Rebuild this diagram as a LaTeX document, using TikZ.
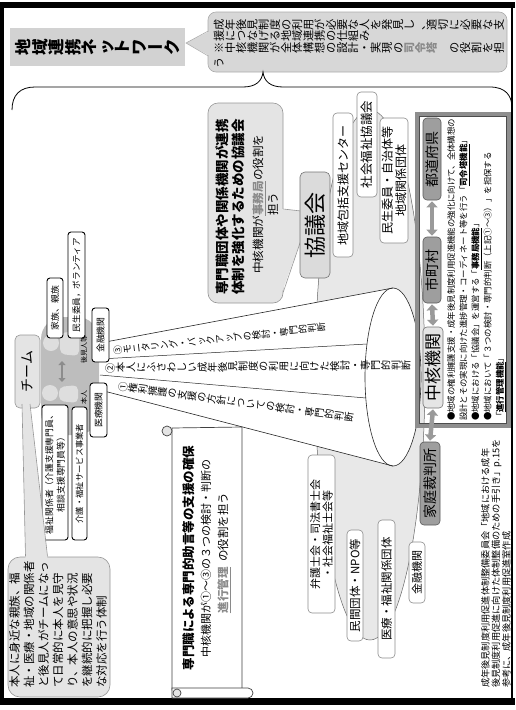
\documentclass[tikz,border=0pt]{standalone}
\usepackage{fontspec}
\setmainfont{Noto Sans CJK JP}
\usepackage{graphicx}
\usetikzlibrary{arrows.meta}
\definecolor{titleg}{HTML}{D2D2D2}
\definecolor{balg}{HTML}{D7D7D7}
\definecolor{balb}{HTML}{ABABAB}
\definecolor{lg}{HTML}{E4E4E4}
\definecolor{lgb}{HTML}{959595}
\definecolor{blobg}{HTML}{E8E8E8}
\definecolor{dgray}{HTML}{9E9E9E}
\definecolor{bgray}{HTML}{8E8E8E}
\definecolor{hlc}{HTML}{8A8A8A}
\definecolor{teamg}{HTML}{BDBDBD}
\definecolor{persong}{HTML}{DEDEDE}
\definecolor{arrowc}{HTML}{9A9A9A}
\newcommand\fz[1]{\fontsize{#1}{#1}\selectfont}
\newcommand\fzb[2]{\fontsize{#1}{#2}\selectfont}
\newcommand\hlt[1]{{\color{hlc}\bfseries\underline{#1}}}
\newcommand\ult[1]{{\bfseries\underline{#1}}}
\makeatletter
\newcommand\tate[1]{\tate@loop#1\@nil}
\def\tate@loop#1{\ifx\@nil#1\else\tate@char{#1}\expandafter\tate@loop\fi}
\def\tate@char#1{\if ー#1\makebox[1em][c]{ー}\else\rotatebox[origin=c]{90}{\makebox[1em][c]{\rule[-.12em]{0pt}{1em}#1}}\fi}
\makeatother
\begin{document}
\begin{tikzpicture}[x=1pt,y=-1pt,
  rt/.style={rotate=90, inner sep=0pt},
  wbox/.style={rotate=90, draw=black, line width=0.9pt, fill=white, rounded corners=3pt, inner sep=0pt, align=center, font=\fzb{8.8}{11.5}},
  nbox/.style={rotate=90, draw=black!45, line width=0.6pt, fill=white, rounded corners=4pt, inner sep=0pt, align=center},
  gbox/.style={rotate=90, draw=black!65, line width=0.6pt, fill=dgray, rounded corners=4pt, inner sep=0pt},
  darr/.style={line width=4.5pt, draw=arrowc, {Triangle[width=11pt,length=6pt]}-{Triangle[width=11pt,length=6pt]}},
  sarr/.style={line width=2.6pt, draw=black!45, {Triangle[width=7pt,length=4pt]}-{Triangle[width=7pt,length=4pt]}},
  cone/.style={line width=0.6pt, draw=black!85},
  trow/.style={anchor=west, inner sep=0pt, font=\fz{11.2}}]
\useasboundingbox (0,0) rectangle (515,710);
% frame
\fill[black] (0,2) rectangle (515,8);
\fill[black] (0,2) rectangle (4,705);
\fill[black] (0,698) rectangle (515,705);
\draw[line width=1.2pt] (512,2) -- (512,705);
% title
\node[fill=titleg, minimum width=175, minimum height=38, inner sep=0pt] (title) at (97.5,47) {\fz{16.5}\bfseries\tate{地域連携ネットワーク}};
% top balloon
\node[draw=balb, fill=balg, line width=0.6pt, rounded corners=8pt, minimum width=299, minimum height=60, inner sep=0pt] (balloon) at (357.5,42) {};
\fill[balg] (210,31) -- (186,43) -- (210,56) -- cycle;
\draw[balb, line width=0.6pt] (208.3,31) -- (186,43) -- (208.3,56);
\node[trow] (b1) at (213,25) {\tate{成年後見制度の利用が必要な人を発見し、適切に必要な支}};
\node[trow] (b2) at (213,35.5) {\tate{援につなげる地域連携の仕組み}};
\node[trow] (b3) at (213,48) {\tate{※中核機関が全体構想の設計・実現の}{\color{hlc}\bfseries\tate{司令塔}}\hspace{1em}\tate{の役割を担}};
\node[trow] (b4) at (213,62.5) {\tate{う}};
% brace
\draw[line width=0.8pt] (12,110) .. controls (12,95) and (20,87) .. (35,87) -- (243,87) .. controls (256,87) and (262,81) .. (263,72) .. controls (264,81) and (270,87) .. (283,87) -- (490,87) .. controls (505,87) and (512,95) .. (512,108);
% network blob
\draw[draw=black!60, fill=blobg, line width=0.5pt] (370,375) ellipse [x radius=55pt, y radius=265pt];
% cone
\fill[white] (100,343) -- (393,288) -- (393,466) -- (100,390) -- cycle;
\fill[white] (393,377) ellipse [x radius=28pt, y radius=89pt];
\draw[cone] (100,343) -- (393,288);
\draw[cone] (100,390) -- (393,466);
\draw[cone] (393,377) ellipse [x radius=28pt, y radius=89pt];
\draw[cone, line width=0.5pt] (100,359) -- (367,344);
\draw[cone, line width=0.5pt] (100,375) -- (366,398);
\node[rotate=6.4, anchor=west, inner sep=0pt, font=\fz{9.3}] (t3) at (113,351) {\tate{③モニタリング・バックアップの検討・専門的判断}};
\node[rotate=0.5, anchor=west, inner sep=0pt, font=\fz{10.2}] (t2) at (105,368) {\tate{②本人にふさわしい成年後見制度の利用に向けた検討・専門的判断}};
\node[rotate=-7.7, anchor=west, inner sep=0pt, font=\fz{9.9}] (t1) at (118,386) {\tate{①権利擁護の支援の方針についての検討・専門的判断}};
% team circle
\fill[teamg, rounded corners=22pt] (41,317) rectangle (99,435);
\fill[persong] (51,343) circle [radius=8pt];
\fill[persong, rounded corners=5pt] (79,331) -- (60,333) -- (60,354) -- (79,356) -- cycle;
\fill[persong] (50,393) circle [radius=8pt];
\fill[persong, rounded corners=5pt] (78,385) -- (59,387) -- (59,401) -- (78,403) -- cycle;
\coordinate (pa) at (62,361);
\coordinate (pb) at (62,382);
\draw[sarr] (pa) -- (pb);
\node[rt, font=\fz{7}] (koukennin) at (84,349) {後見人等};
\node[rt, font=\fz{7}] (honnin) at (84,397) {本人};
% team label
\node[rotate=90, draw=lgb, fill=lg, line width=0.6pt, rounded corners=5pt, minimum width=73, minimum height=25, inner sep=0pt, font=\fz{14}] (team) at (27.5,371.5) {チーム};
% team boxes
\node[wbox, minimum width=60, minimum height=16] (kazoku) at (55,308) {家族、親族};
\node[wbox, minimum width=106, minimum height=17, font=\fz{8.6}] (minsei) at (76.5,285) {民生委員，ボランティア};
\node[wbox, minimum width=54, minimum height=17] (kinyu1) at (100.5,335) {金融機関};
\node[wbox, minimum width=54, minimum height=17] (iryo1) at (98.5,410) {医療機関};
\node[wbox, minimum width=133, minimum height=15, font=\fz{8.3}] (kaigo) at (79.5,473.5) {介護・福祉サービス事業者};
\node[wbox, minimum width=135, minimum height=26] (fukushi) at (55,472.5) {福祉関係者（介護支援専門員、\\相談支援専門員等）};
% team callout
\node[draw=lgb, fill=lg, line width=0.6pt, rounded corners=12pt, minimum width=102, minimum height=140, inner sep=0pt] (teamcall) at (59,627) {};
\fill[lg] (22.3,404) -- (29.7,404) -- (47.5,558) -- (25.5,558) -- cycle;
\draw[lgb, line width=0.6pt] (22,404) -- (25.5,556.3);
\draw[lgb, line width=0.6pt] (30,404) -- (47.5,556.3);
\node[rt, anchor=north west, align=left, font=\fzb{11.5}{14.5}] (teamtext) at (9,688) {本人に身近な親族、福\\祉・医療・地域の関係者\\と後見人がチームになっ\\て日常的に本人を見守\\り、本人の意思や状況\\を継続的に把握し必要\\な対応を行う体制};
% kyogikai callout
\node[draw=lgb, fill=lg, line width=0.6pt, rounded corners=10pt, minimum width=75, minimum height=200, inner sep=0pt] (kcall) at (245.5,203) {};
\fill[lg] (282,209) -- (301,211) -- (301,240) -- (282,292) -- cycle;
\draw[lgb, line width=0.6pt] (283.3,209) -- (301,211);
\draw[lgb, line width=0.6pt] (301,240) -- (283.3,292);
\node[rt, font=\fz{13.5}\bfseries] (k1) at (222.5,207) {専門職団体や関係機関が連携};
\node[rt, font=\fz{13.5}\bfseries] (k2) at (238,207) {体制を強化するための協議会};
\node[rt, font=\fz{11.6}] (k3) at (259,204) {中核機関が\hlt{事務局}の役割を};
\node[rt, font=\fz{11.6}] (k4) at (273,204) {担う};
% network boxes
\node[rotate=90, draw=black!55, fill=black!14, line width=0.6pt, rounded corners=5pt, minimum width=106, minimum height=30, inner sep=0pt, font=\fz{22}] (kyogikai) at (315,225) {協議会};
\node[nbox, minimum width=144, minimum height=20, font=\fz{12}] (houkatsu) at (343,185) {地域包括支援センター};
\node[nbox, minimum width=105, minimum height=20, font=\fz{12.5}] (shakyo) at (367,144.5) {社会福祉協議会};
\node[nbox, minimum width=125, minimum height=28, font=\fzb{12}{13.5}] (minsei2) at (394,180.5) {民生委員・自治体等\\地域関係団体};
\node[nbox, minimum width=158, minimum height=27, font=\fzb{11}{12.5}] (bengo) at (321.5,534) {弁護士会・司法書士会\\・社会福祉士会等};
\node[nbox, minimum width=111, minimum height=16, font=\fz{11.5}] (minkan) at (355,585.5) {民間団体・NPO等};
\node[nbox, minimum width=138, minimum height=17, font=\fz{11.5}] (iryo2) at (386.5,589) {医療・福祉関係団体};
\node[nbox, minimum width=61, minimum height=16, font=\fz{11}] (kinyu2) at (417,572.5) {金融機関};
% scroll
\draw[black!75, fill=white, line width=0.7pt] (172,428) -- (242,427) -- (242,690) -- (172,690) -- cycle;
\draw[black!75, fill=black!10, line width=0.7pt] (167,431) circle [radius=5pt];
\draw[black!75, fill=white, line width=0.7pt] (172,688) -- (248,688) arc [start angle=90, end angle=-90, radius=5pt] -- (172,698) -- cycle;
\draw[black!75, fill=black!10, line width=0.7pt] (177,693) circle [radius=4pt];
\node[rt, font=\fz{12.5}\bfseries] (s1) at (189,558) {専門職による専門的助言等の支援の確保};
\node[rt, font=\fz{11}] (s2) at (206,558) {中核機関が①〜③の３つの検討・判断の};
\node[rt, font=\fz{11.5}] (s3) at (224,553) {\hlt{進行管理}\hspace{.5em}の役割を担う};
% chukaku box
\draw[line width=4pt, draw=bgray] (417,114) rectangle (508.5,425.5);
\draw[line width=0.5pt, draw=black!70] (419.5,116.5) rectangle (506,423);
\node[gbox, minimum width=82, minimum height=18, font=\fz{14}] (todofuken) at (432,159) {都道府県};
\node[gbox, minimum width=66, minimum height=18, font=\fz{14}] (shichoson) at (432,270) {市町村};
\node[rotate=90, draw=black!55, fill=black!10, line width=0.6pt, rounded corners=4pt, minimum width=81, minimum height=20, inner sep=0pt, font=\fz{17}] (chukaku) at (433,367.5) {中核機関};
\node[gbox, minimum width=83, minimum height=20, font=\fz{14}] (katei) at (430,483.5) {家庭裁判所};
\draw[darr] ([yshift=-1pt]todofuken.west) -- ([yshift=1pt]shichoson.east);
\draw[darr] ([yshift=-1pt]shichoson.west) -- ([yshift=1pt]chukaku.east);
\draw[darr] ([yshift=-1pt]chukaku.west) -- ([yshift=1pt]katei.east);
\node[rt, anchor=north west, align=left, font=\fzb{8.4}{12.2}] (chutext) at (447,421) {●地域の権利擁護支援・成年後見制度利用促進機能の強化に向けて、全体構想の\\設計とその実現に向けた進捗管理・コーディネート等を行う「\ult{司令塔機能}」\\●地域における「協議会」を運営する「\ult{事務局機能}」\\●地域において「３つの検討・専門的判断（上記①〜③）」を担保する\\「\ult{進行管理機能}」};
% source
\node[rt, anchor=north west, align=left, font=\fzb{9.2}{10.4}] (source) at (481,688) {成年後見制度利用促進体制整備委員会「地域における成年\\後見制度利用促進に向けた体制整備のための手引き」p.15を\\参考に、成年後見制度利用促進室作成};
\end{tikzpicture}
\end{document}
